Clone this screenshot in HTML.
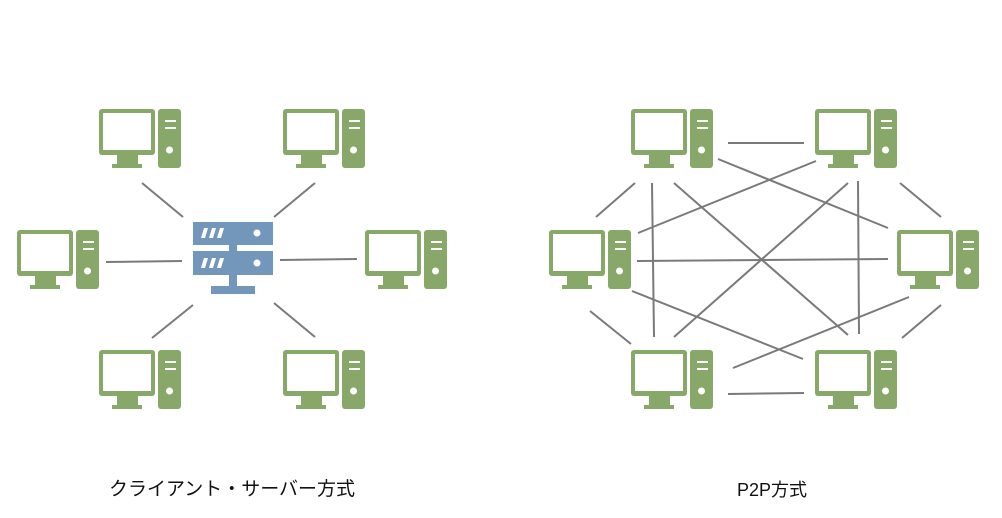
<!DOCTYPE html>
<html><head><meta charset="utf-8"><style>
html,body{margin:0;padding:0;background:#fff;width:1002px;height:518px;overflow:hidden}
.t{position:absolute;font-family:"Liberation Sans","Noto Sans CJK JP",sans-serif;font-size:19px;line-height:22px;color:#111;white-space:nowrap;transform:translateX(-50%)}
</style></head><body>
<svg width="1002" height="518" style="position:absolute;left:0;top:0">
<defs>
<g id="pc">
<rect x="0" y="0" width="56" height="46" rx="3" fill="#88a86a"/>
<rect x="4" y="4" width="48" height="37" fill="#fff"/>
<rect x="18" y="46" width="21" height="10" fill="#88a86a"/>
<rect x="13" y="55" width="30" height="4" fill="#88a86a"/>
<rect x="59" y="0" width="23" height="59" rx="3" fill="#88a86a"/>
<rect x="66" y="11" width="11" height="2" fill="#fff"/>
<rect x="66" y="18" width="11" height="2" fill="#fff"/>
<circle cx="70.5" cy="41" r="3.5" fill="#fff"/>
</g>
</defs>
<g stroke="#7a7a7a" stroke-width="2">
<line x1="142" y1="183" x2="183" y2="217"/>
<line x1="315" y1="183" x2="274" y2="217"/>
<line x1="106" y1="262" x2="182" y2="261"/>
<line x1="280" y1="260" x2="357" y2="259"/>
<line x1="193" y1="305" x2="152" y2="338"/>
<line x1="274" y1="303" x2="315" y2="337"/>

<line x1="728" y1="143" x2="804" y2="143"/>
<line x1="718" y1="159" x2="888" y2="228"/>
<line x1="816" y1="161" x2="638" y2="233"/>
<line x1="635" y1="183" x2="596" y2="217"/>
<line x1="652" y1="183" x2="654" y2="337"/>
<line x1="674" y1="183" x2="848" y2="335"/>
<line x1="848" y1="183" x2="674" y2="337"/>
<line x1="858" y1="181" x2="859" y2="334"/>
<line x1="900" y1="183" x2="941" y2="217"/>
<line x1="637" y1="261" x2="888" y2="259"/>
<line x1="632" y1="291" x2="803" y2="359"/>
<line x1="909" y1="297" x2="733" y2="368"/>
<line x1="590" y1="311" x2="631" y2="344"/>
<line x1="941" y1="305" x2="902" y2="338"/>
<line x1="728" y1="394" x2="804" y2="393"/>
</g>
<use href="#pc" x="99" y="109"/>
<use href="#pc" x="283" y="109"/>
<use href="#pc" x="17" y="230"/>
<use href="#pc" x="365" y="230"/>
<use href="#pc" x="99" y="350"/>
<use href="#pc" x="283" y="350"/>
<use href="#pc" x="631" y="109"/>
<use href="#pc" x="815" y="109"/>
<use href="#pc" x="549" y="230"/>
<use href="#pc" x="897" y="230"/>
<use href="#pc" x="631" y="350"/>
<use href="#pc" x="815" y="350"/>
<g fill="#7297bb">
<rect x="193" y="222" width="80" height="23"/>
<rect x="193" y="251" width="80" height="24"/>
<rect x="229" y="245" width="8" height="6"/>
<rect x="229" y="275" width="8" height="11"/>
<rect x="211" y="286" width="44" height="8"/>
</g>
<g fill="#fff">
<polygon points="204,228 208,228 205,238 201,238"/>
<polygon points="212,228 216,228 213,238 209,238"/>
<polygon points="220,228 224,228 221,238 217,238"/>
<polygon points="204,258 208,258 205,268 201,268"/>
<polygon points="212,258 216,258 213,268 209,268"/>
<polygon points="220,258 224,258 221,268 217,268"/>
<circle cx="257" cy="233" r="3.5"/>
<circle cx="257" cy="263" r="3.5"/>
</g>
</svg>
<div class="t" style="left:232px;top:479px">クライアント・サーバー方式</div>
<div class="t" style="left:772px;top:479px;font-size:18px">P2P方式</div>
</body></html>
